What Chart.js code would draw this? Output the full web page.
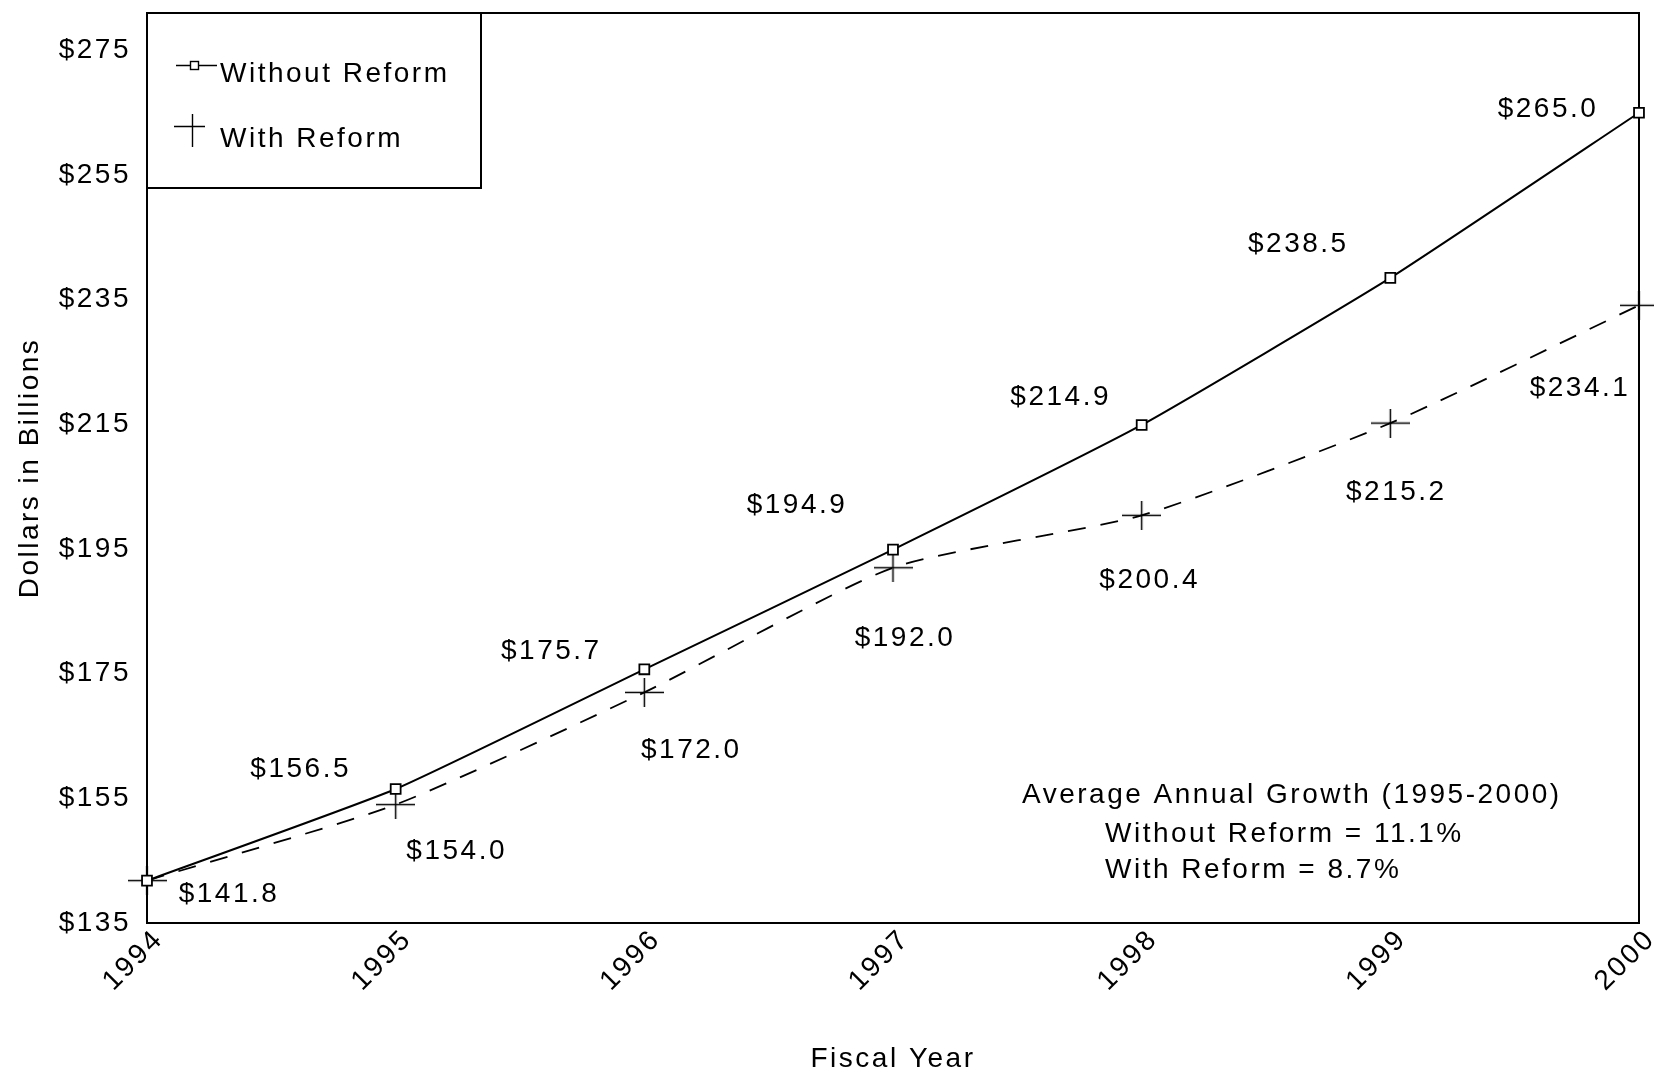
<!DOCTYPE html>
<html>
<head>
<meta charset="utf-8">
<title>Dollars in Billions by Fiscal Year</title>
<script src="https://cdn.jsdelivr.net/npm/chart.js@4.4.1/dist/chart.umd.min.js"></script>
<style>
  html, body { margin: 0; padding: 0; background: #fff; }
  #wrap { width: 1654px; height: 1080px; position: relative; }
</style>
</head>
<body>
<div id="wrap"><canvas id="chart"></canvas></div>
<script>
// ---- data ----
const years = ['1994', '1995', '1996', '1997', '1998', '1999', '2000'];
const withoutReform = [141.8, 156.5, 175.7, 194.9, 214.9, 238.5, 265.0];
const withReform = [141.8, 154.0, 172.0, 192.0, 200.4, 215.2, 234.1];
const yTicks = [135, 155, 175, 195, 215, 235, 255, 275];
const seriesNames = ['Without Reform', 'With Reform'];
const growthNote = [
    'Average Annual Growth (1995-2000)',
    'Without Reform = 11.1%',
    'With Reform = 8.7%'
];

// where each value label sits, relative to its point (px)
const withoutLabelPos = [[82, 14], [-95, -20], [-93, -18], [-96, -44], [-81, -28], [-92, -34], [-91, -3]];
const withLabelPos = [null, [61, 47], [47, 58], [12, 71], [8, 65], [6, 69], [-59, 83]];

const INK = '#000';
const FAMILY = "'Liberation Sans', Arial, sans-serif";
const FONT_SIZE = 28;
const SPACING = '2.5px';

/* cross marker drawn on a small canvas, used as pointStyle */
function crossMark(w, h) {
    const c = document.createElement('canvas');
    c.width = w;
    c.height = h;
    const g = c.getContext('2d');
    g.strokeStyle = INK;
    g.lineWidth = 1.5;
    g.beginPath();
    g.moveTo(0, h / 2); g.lineTo(w, h / 2);
    g.moveTo(w / 2, 0); g.lineTo(w / 2, h);
    g.stroke();
    return c;
}

const decor = {
    id: 'decor',
    beforeDraw(chart) {
        chart.ctx.letterSpacing = SPACING;
    },
    beforeDatasetsDraw(chart) {
        const { ctx, chartArea: a } = chart;
        ctx.save();
        ctx.strokeStyle = INK;
        ctx.lineWidth = 2;
        ctx.strokeRect(a.left, a.top, a.right - a.left, a.bottom - a.top);
        ctx.restore();
    },
    afterDatasetsDraw(chart) {
        const { ctx } = chart;
        const positions = [withoutLabelPos, withLabelPos];
        ctx.save();
        ctx.font = `${FONT_SIZE}px ${FAMILY}`;
        ctx.letterSpacing = SPACING;
        ctx.fillStyle = INK;
        ctx.textAlign = 'center';
        ctx.textBaseline = 'middle';
        chart.data.datasets.forEach((ds, i) => {
            chart.getDatasetMeta(i).data.forEach((pt, j) => {
                const off = positions[i][j];
                if (!off) return;
                ctx.fillText('$' + ds.data[j].toFixed(1), pt.x + off[0], pt.y + off[1]);
            });
        });

        // growth note
        ctx.textAlign = 'left';
        ctx.textBaseline = 'alphabetic';
        ctx.fillText(growthNote[0], 1022, 803);
        ctx.fillText(growthNote[1], 1105, 842);
        ctx.fillText(growthNote[2], 1105, 878);
        ctx.restore();
    },
    afterDraw(chart) {
        const { ctx, chartArea: a } = chart;
        const names = chart.data.datasets.map(d => d.label);
        ctx.save();
        // legend box
        ctx.fillStyle = '#fff';
        ctx.fillRect(a.left, a.top, 334, 175);
        ctx.strokeStyle = INK;
        ctx.lineWidth = 2;
        ctx.strokeRect(a.left, a.top, 334, 175);

        ctx.lineWidth = 1.4;
        // without reform: line + square
        ctx.beginPath();
        ctx.moveTo(176, 65.5); ctx.lineTo(217, 65.5);
        ctx.stroke();
        ctx.fillStyle = '#fff';
        ctx.fillRect(190.5, 61.5, 8, 8);
        ctx.strokeRect(190.5, 61.5, 8, 8);
        // with reform: cross
        ctx.beginPath();
        ctx.moveTo(174, 126.5); ctx.lineTo(205, 126.5);
        ctx.moveTo(192.5, 114); ctx.lineTo(192.5, 147);
        ctx.stroke();

        ctx.font = `${FONT_SIZE}px ${FAMILY}`;
        ctx.letterSpacing = SPACING;
        ctx.fillStyle = INK;
        ctx.textAlign = 'left';
        ctx.textBaseline = 'alphabetic';
        ctx.fillText(names[0], 220, 82);
        ctx.fillText(names[1], 220, 147);
        ctx.restore();
        ctx.letterSpacing = '0px';
    }
};

const tickFont = { family: FAMILY, size: FONT_SIZE };

new Chart(document.getElementById('chart'), {
    type: 'line',
    data: {
        labels: years,
        datasets: [{
            label: seriesNames[0],
            data: withoutReform,
            borderColor: INK,
            borderWidth: 2,
            tension: 0.15,
            pointStyle: 'rect',
            pointRadius: 7,
            pointBorderWidth: 1.8,
            pointBackgroundColor: '#fff',
            pointBorderColor: INK,
            clip: false
        }, {
            label: seriesNames[1],
            data: withReform,
            borderColor: INK,
            borderWidth: 1.8,
            borderDash: [18, 15],
            tension: 0.2,
            pointStyle: crossMark(39, 29),
            clip: false
        }]
    },
    options: {
        responsive: true,
        maintainAspectRatio: false,
        animation: false,
        events: [],
        layout: { padding: { top: 13, right: 15, left: 0, bottom: 0 } },
        plugins: {
            legend: { display: false },
            tooltip: { enabled: false }
        },
        scales: {
            x: {
                type: 'category',
                offset: false,
                grid: { display: false, drawTicks: false },
                border: { display: false },
                ticks: {
                    color: INK,
                    font: tickFont,
                    minRotation: 45,
                    maxRotation: 45,
                    autoSkip: false,
                    labelOffset: 12,
                    padding: 0
                },
                title: {
                    display: true,
                    text: 'Fiscal Year',
                    color: INK,
                    font: tickFont,
                    padding: { top: 0, bottom: 4 }
                },
                afterFit(scale) {
                    scale.height = 157;
                    scale.paddingLeft = 0;
                    scale.paddingRight = 0;
                }
            },
            y: {
                min: 135,
                max: 281,
                grid: { display: false, drawTicks: false },
                border: { display: false },
                afterBuildTicks(axis) {
                    axis.ticks = yTicks.map(v => ({ value: v }));
                },
                ticks: {
                    color: INK,
                    font: tickFont,
                    padding: 16,
                    callback: v => '$' + v
                },
                title: {
                    display: true,
                    text: 'Dollars in Billions',
                    color: INK,
                    font: tickFont,
                    padding: { top: 13, bottom: 0 }
                },
                afterFit(scale) {
                    scale.width = 147;
                    scale.paddingTop = 0;
                    scale.paddingBottom = 0;
                }
            }
        }
    },
    plugins: [decor]
});
</script>
</body>
</html>
